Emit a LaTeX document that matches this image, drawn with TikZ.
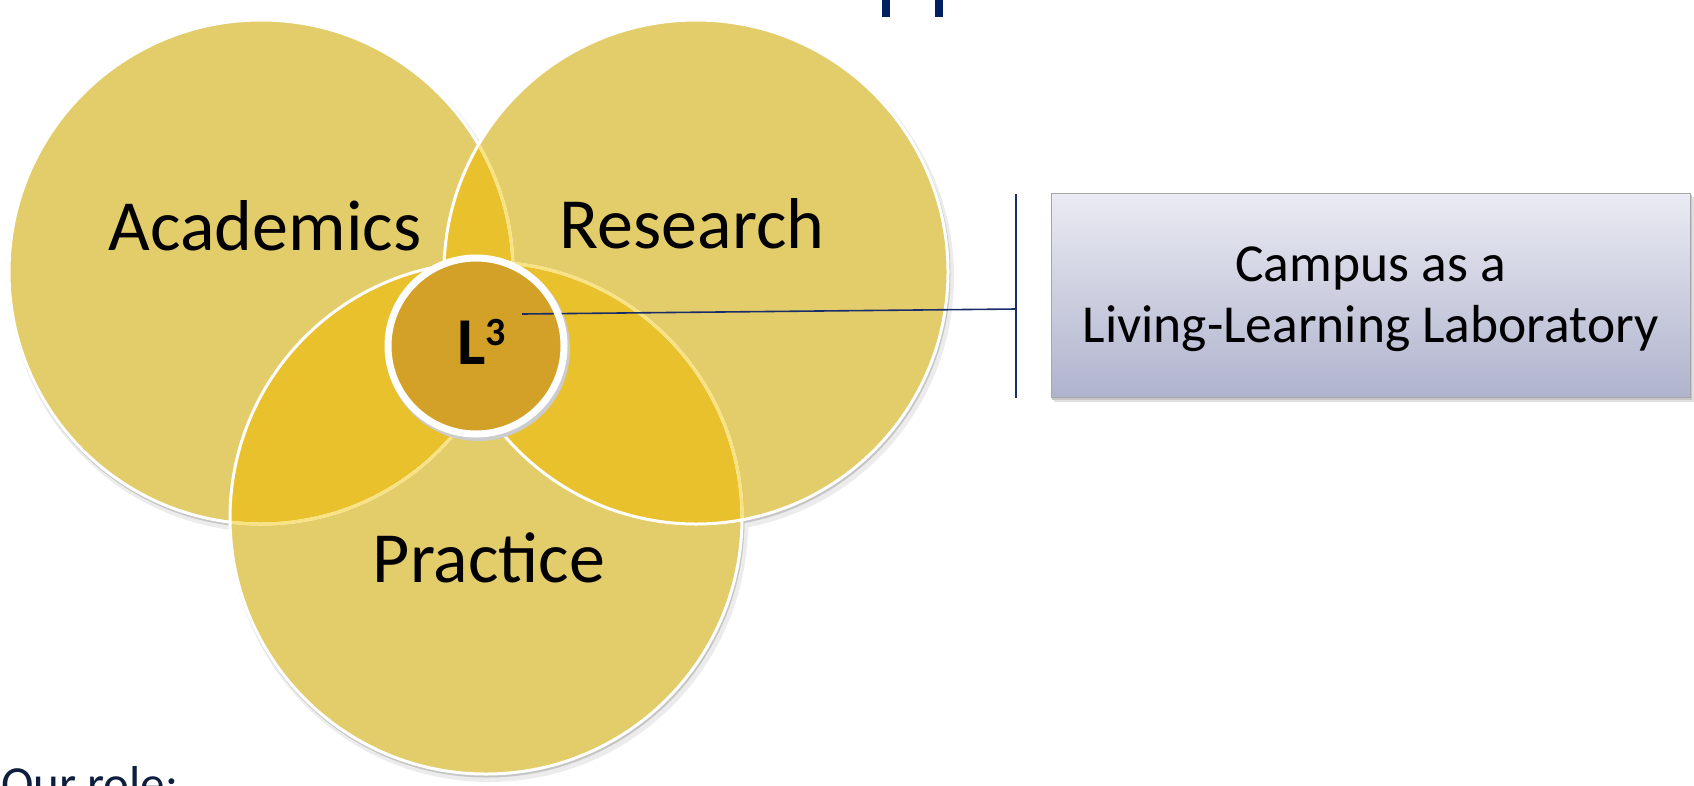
\documentclass[tikz,border=0pt]{standalone}
\usepackage{fontspec}
\setmainfont{Carlito}
\usepackage{tikz}
\usetikzlibrary{positioning}
\definecolor{vGold}{RGB}{227,204,106}
\definecolor{vLens}{RGB}{233,193,45}
\definecolor{vCore}{RGB}{213,155,18}
\definecolor{vPale}{RGB}{248,226,130}
\definecolor{qNavy}{RGB}{0,32,96}
\definecolor{qInk}{RGB}{14,30,62}
\definecolor{qLine}{RGB}{25,45,105}
\definecolor{boxTop}{RGB}{234,235,243}
\definecolor{boxBot}{RGB}{176,179,205}

\begin{document}
\begin{tikzpicture}[x=1pt, y=-1pt,
  lbl/.style={font=\fontsize{72}{72}\selectfont, anchor=base, inner sep=0pt},
  ring/.style={draw=white, line width=3pt},
  underring/.style={draw=vPale, line width=3pt},
  labbox/.style={draw=gray!70, line width=0.8pt, top color=boxTop, bottom color=boxBot,
    minimum width=639pt, minimum height=204pt, align=center, inner sep=0pt,
    font=\fontsize{53.5}{61}\selectfont}]
  \useasboundingbox (0,0) rectangle (1694,785);

  % circle centres
  \coordinate (ac) at (261,272);
  \coordinate (pc) at (486,518);
  \coordinate (rc) at (696,272);
  \coordinate (lc) at (476,346);

  % soft shadows
  \foreach \c/\r in {ac/252,pc/256,rc/252}
    \fill[gray!15] ([shift={(3,5)}]\c) circle[radius=\r pt+3pt];
  \foreach \c/\r in {ac/252,pc/256,rc/252}
    \fill[gray!45] ([shift={(1,2)}]\c) circle[radius=\r pt+1.5pt];

  % the three circles
  \foreach \c/\r in {ac/252,pc/256,rc/252}
    \fill[vGold] (\c) circle[radius=\r pt];

  % pairwise overlaps
  \begin{scope}
    \clip (ac) circle[radius=252pt];
    \fill[vLens] (pc) circle[radius=256pt];
    \fill[vLens] (rc) circle[radius=252pt];
  \end{scope}
  \begin{scope}
    \clip (pc) circle[radius=256pt];
    \fill[vLens] (rc) circle[radius=252pt];
  \end{scope}

  % outlines (lower circles show through pale)
  \foreach \c/\r in {ac/252,pc/256,rc/252}
    \draw[ring] (\c) circle[radius=\r pt];
  \begin{scope}
    \clip (pc) circle[radius=254.5pt];
    \draw[underring] (ac) circle[radius=252pt];
  \end{scope}
  \begin{scope}
    \clip (rc) circle[radius=250.5pt];
    \draw[underring] (ac) circle[radius=252pt];
    \draw[underring] (pc) circle[radius=256pt];
  \end{scope}

  % labels
  \node[lbl] (acad) at (265,250) {Academics};
  \node[lbl] (res)  at (692,248) {Research};
  \node[lbl] (prac) at (489,582) {Practice};

  % centre circle
  \fill[gray!40] ([shift={(2,3)}]lc) circle[radius=92pt];
  \fill[vCore, fill opacity=0.88] (lc) circle[radius=88pt];
  \coordinate (tap) at (522,314);
  \coordinate (brTop) at (1016,194);
  \coordinate (brMid) at (1016,309);
  \coordinate (brBot) at (1016,398);
  \draw[qLine, line width=1.6pt] (tap) -- (brMid);
  \draw[white, line width=7pt] (lc) circle[radius=88pt];
  \node[anchor=base west, inner sep=0pt, font=\bfseries\fontsize{67}{67}\selectfont]
    (lthree) at (457,364) {L\raisebox{19pt}{\fontsize{40}{40}\selectfont 3}};

  % bracket + box
  \draw[qLine, line width=1.6pt] (brTop) -- (brBot);
  \fill[gray!25] (1054,197) rectangle (1694,402);
  \fill[gray!45] (1052,195) rectangle (1692,400);
  \node[labbox, text depth=0pt] (lab) at (1370.5,295) {Campus as a\\Living-Learning Laboratory};

  % cut edges of the page
  \fill[qNavy] (882,0) rectangle (890,17);
  \fill[qNavy] (935,0) rectangle (943,17);
  \node[anchor=base west, inner sep=0pt, text=qInk, font=\fontsize{49}{49}\selectfont]
    (role) at (1,800) {Our role:};
\end{tikzpicture}
\end{document}
